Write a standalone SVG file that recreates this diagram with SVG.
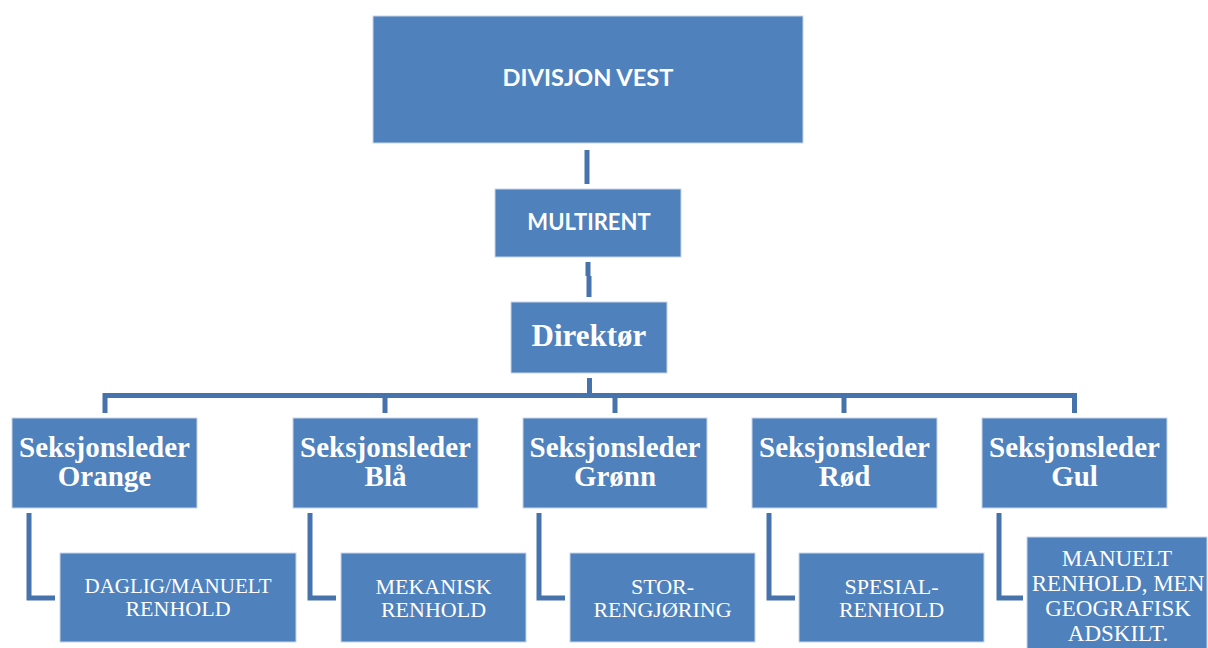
<svg xmlns="http://www.w3.org/2000/svg" width="1208" height="648" viewBox="0 0 1208 648">
<style>
.box{fill:#4f81bd;stroke:#c7d6ea;stroke-width:1}
.conn{fill:none;stroke:#4673ab;stroke-width:5}
.hd{font-family:Lato,"Open Sans","DejaVu Sans",sans-serif;font-weight:bold;font-size:22px;fill:#fff;text-anchor:middle}
.sl{font-family:"Liberation Serif","Times New Roman",serif;font-weight:bold;font-size:29px;fill:#fff;text-anchor:middle}
.ch{font-family:"Liberation Serif","Times New Roman",serif;font-size:22px;fill:#fff;text-anchor:middle}
.gul{font-size:23px}
</style>
<rect width="1208" height="648" fill="#fff"/>
<g id="connectors">
<path class="conn" d="M587 150V184"/>
<path class="conn" d="M588 262V276M589 276V297"/>
<path class="conn" d="M589.5 378V395.5"/>
<path class="conn" d="M105 413V395.5H1074.5V413"/>
<path class="conn" d="M385 395.5V413M615 395.5V413M844 395.5V413"/>
<path class="conn" d="M29 513V598H55"/>
<path class="conn" d="M310 513V598H336"/>
<path class="conn" d="M539 513V598H565"/>
<path class="conn" d="M769 513V598H795"/>
<path class="conn" d="M999 513V598H1023"/>
</g>
<g id="divisjon-vest"><rect class="box" x="373" y="16" width="430" height="127"/><text class="hd" x="588" y="86" textLength="171" lengthAdjust="spacingAndGlyphs">DIVISJON VEST</text></g>
<g id="multirent"><rect class="box" x="495" y="189" width="186" height="68"/><text class="hd" x="589" y="230">MULTIRENT</text></g>
<g id="direktor"><rect class="box" x="511" y="302" width="156" height="71"/><text class="sl" style="font-size:31px" x="589" y="346">Direktør</text></g>
<g id="sl-orange"><rect class="box" x="12" y="418" width="185" height="90"/><text class="sl" x="104.5" y="457">Seksjonsleder</text><text class="sl" x="104.5" y="486">Orange</text></g>
<g id="sl-bla"><rect class="box" x="293" y="418" width="185" height="90"/><text class="sl" x="385.5" y="457">Seksjonsleder</text><text class="sl" x="385.5" y="486">Blå</text></g>
<g id="sl-gronn"><rect class="box" x="523" y="418" width="184" height="90"/><text class="sl" x="615" y="457">Seksjonsleder</text><text class="sl" x="615" y="486">Grønn</text></g>
<g id="sl-rod"><rect class="box" x="752" y="418" width="185" height="90"/><text class="sl" x="844.5" y="457">Seksjonsleder</text><text class="sl" x="844.5" y="486">Rød</text></g>
<g id="sl-gul"><rect class="box" x="982" y="418" width="185" height="90"/><text class="sl" x="1074.5" y="457">Seksjonsleder</text><text class="sl" x="1074.5" y="486">Gul</text></g>
<g id="ch-orange"><rect class="box" x="60" y="553" width="236" height="89"/><text class="ch" style="font-size:21px" x="178" y="593">DAGLIG/MANUELT</text><text class="ch" x="178" y="616">RENHOLD</text></g>
<g id="ch-bla"><rect class="box" x="341" y="553" width="185" height="89"/><text class="ch" x="433.5" y="594">MEKANISK</text><text class="ch" x="433.5" y="617">RENHOLD</text></g>
<g id="ch-gronn"><rect class="box" x="570" y="553" width="185" height="89"/><text class="ch" x="662.5" y="594">STOR-</text><text class="ch" x="662.5" y="617">RENGJØRING</text></g>
<g id="ch-rod"><rect class="box" x="799" y="553" width="185" height="89"/><text class="ch" x="891.5" y="594">SPESIAL-</text><text class="ch" x="891.5" y="617">RENHOLD</text></g>
<g id="ch-gul"><rect class="box" x="1027" y="537" width="180" height="115"/><text class="ch gul" x="1117" y="566">MANUELT</text><text class="ch gul" x="1118" y="591">RENHOLD, MEN</text><text class="ch gul" x="1118" y="616">GEOGRAFISK</text><text class="ch gul" x="1118" y="641">ADSKILT.</text></g>
</svg>
